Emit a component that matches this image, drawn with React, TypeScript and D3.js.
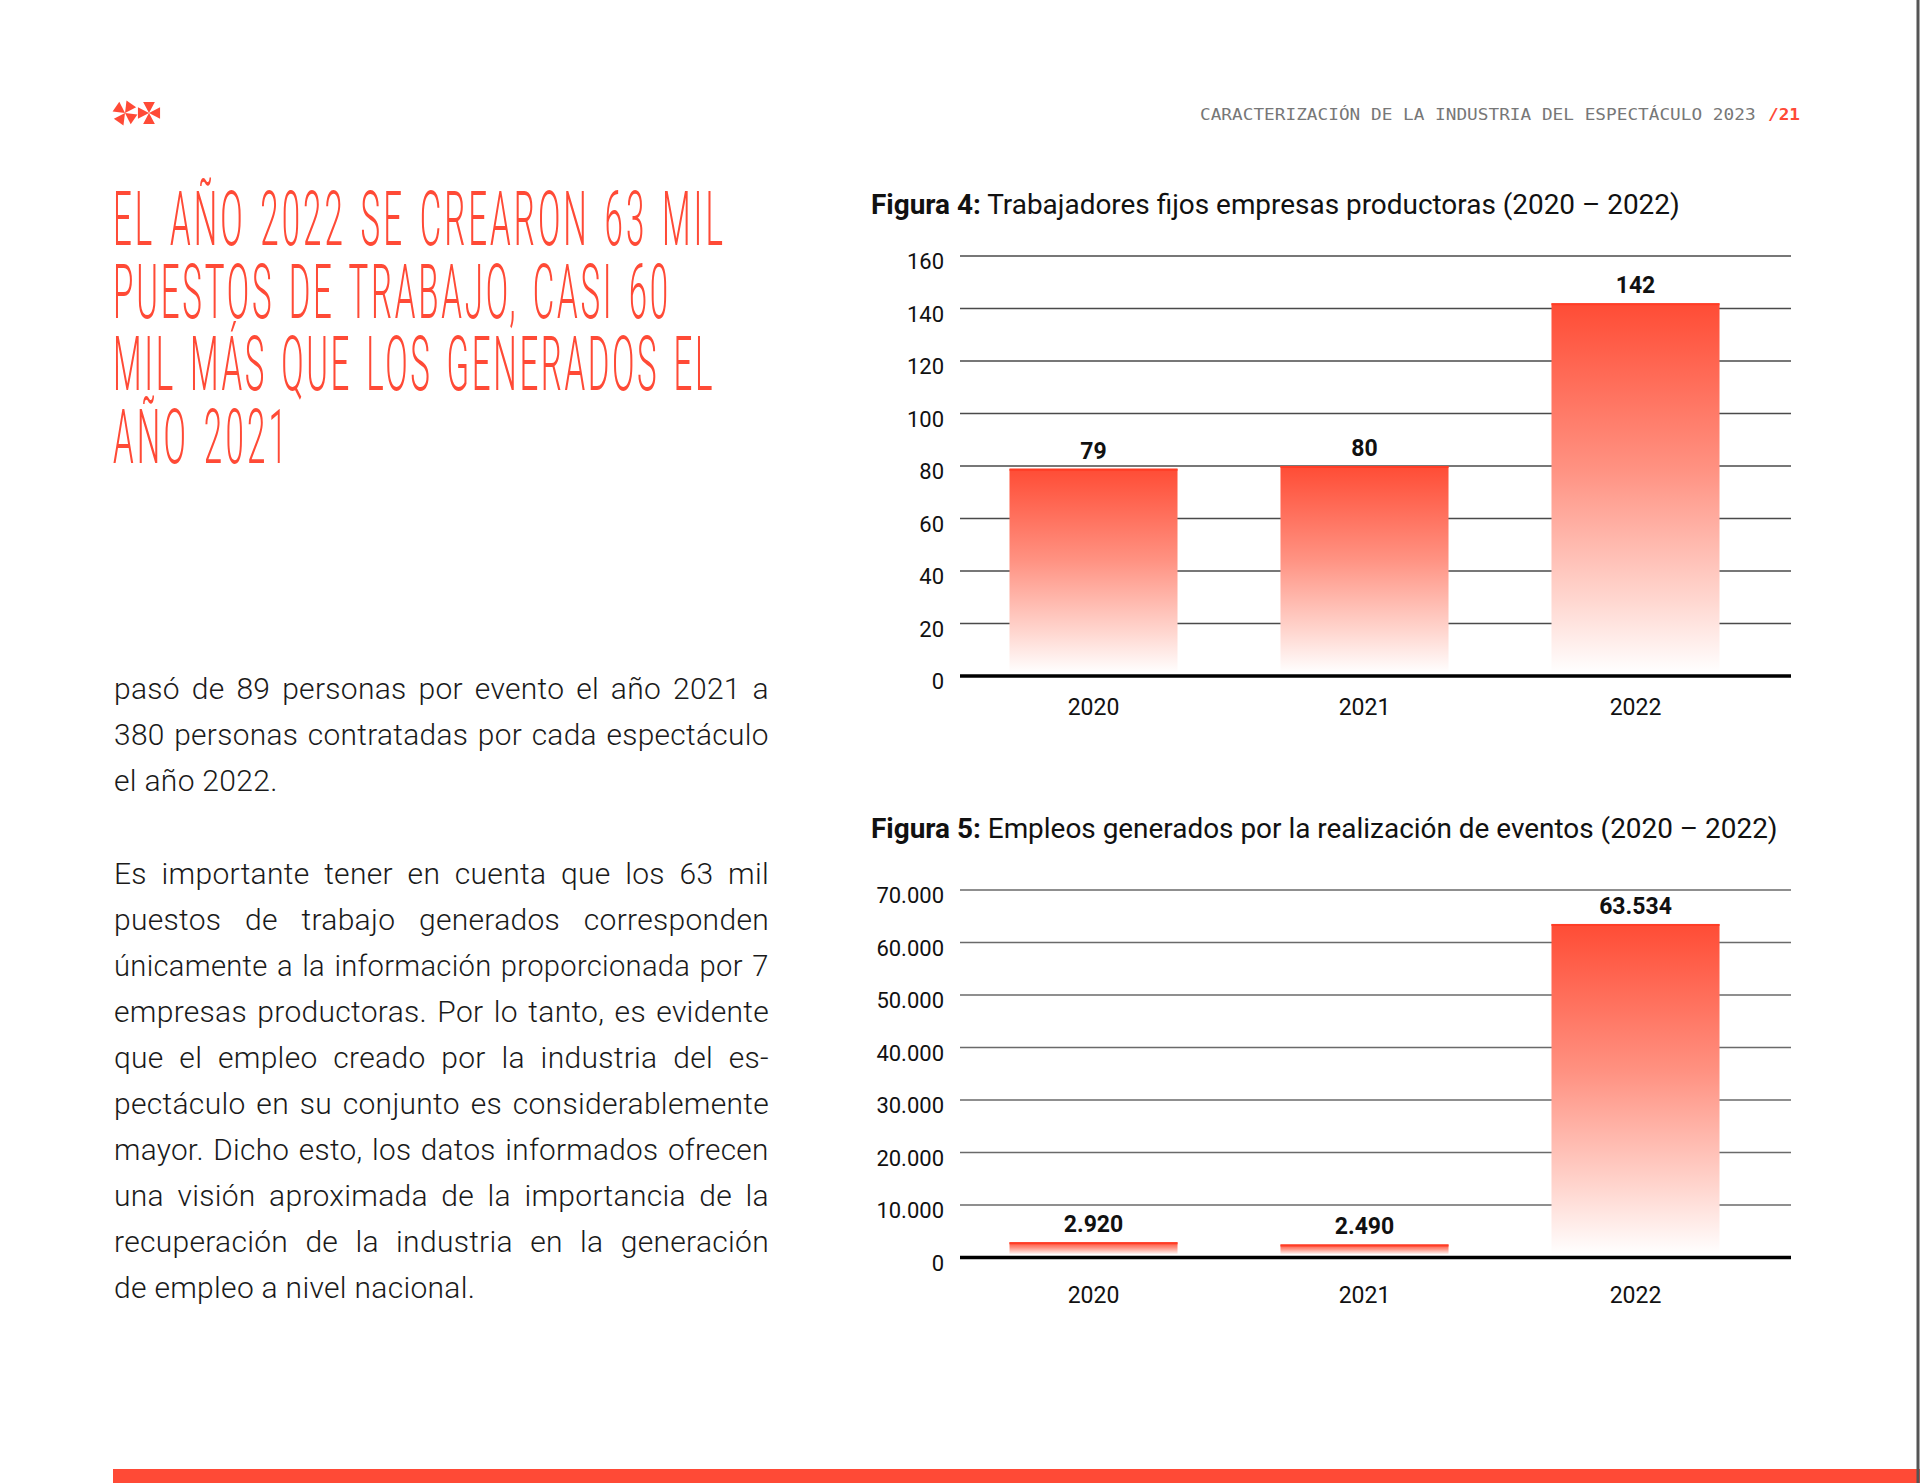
import * as d3 from "d3";
import { useEffect, useRef } from "react";

const years = ["2020", "2021", "2022"];
const fixedWorkers = [79, 80, 142];
const eventJobs = [2920, 2490, 63534];
const ticksFixed = [0, 20, 40, 60, 80, 100, 120, 140, 160];
const ticksJobs = [0, 10000, 20000, 30000, 40000, 50000, 60000, 70000];

const headlineLines = [
	"EL AÑO 2022 SE CREARON 63 MIL",
	"PUESTOS DE TRABAJO, CASI 60",
	"MIL MÁS QUE LOS GENERADOS EL",
	"AÑO 2021",
];
const headlineWidths = [613, 558, 602, 177];

const paragraphOne = [
	"pasó de 89 personas por evento el año 2021 a",
	"380 personas contratadas por cada espectáculo",
	"el año 2022.",
];
const paragraphTwo = [
	"Es importante tener en cuenta que los 63 mil",
	"puestos de trabajo generados corresponden",
	"únicamente a la información proporcionada por 7",
	"empresas productoras. Por lo tanto, es evidente",
	"que el empleo creado por la industria del es-",
	"pectáculo en su conjunto es considerablemente",
	"mayor. Dicho esto, los datos informados ofrecen",
	"una visión aproximada de la importancia de la",
	"recuperación de la industria en la generación",
	"de empleo a nivel nacional.",
];

const RED = "#ff4a36";
const esLocale = d3.formatLocale({
	decimal: ",",
	thousands: ".",
	grouping: [3],
	currency: ["$", ""],
});
const fmt = esLocale.format(",");

interface ChartOpts {
	id: string;
	titleBold: string;
	titleRest: string;
	titleY: number;
	titleWidth: number;
	yBottom: number;
	yTop: number;
	max: number;
	ticks: number[];
	values: number[];
	gridColor: string;
	xLabelOffset: number;
}

// squeeze a text horizontally to a given width with a transform, so its box stays true
function fit(sel: any, x: number, y: number, width: number) {
	sel.attr("x", 0).attr("y", 0);
	const natural = (sel.node() as SVGTextElement).getComputedTextLength();
	const s = natural > 0 ? width / natural : 1;
	sel.attr("transform", `translate(${x},${y}) scale(${s},1)`);
	return sel;
}

function App() {
	const ref = useRef<SVGSVGElement>(null);

	function drawChart(svg: any, o: ChartOpts) {
		const g = svg.append("g").attr("id", o.id);
		const xScale = d3
			.scaleBand()
			.domain(years)
			.range([958, 1771])
			.paddingInner(0.38)
			.paddingOuter(0.19);
		const yScale = d3
			.scaleLinear()
			.domain([0, o.max])
			.range([o.yBottom, o.yTop]);

		// title
		const title = g
			.append("text")
			.attr("font-family", "Roboto")
			.attr("font-size", 28)
			.attr("fill", "#111");
		title.append("tspan").attr("font-weight", 700).text(o.titleBold);
		title.append("tspan").text(o.titleRest);
		fit(title, 871, o.titleY, o.titleWidth);

		// gridlines + tick labels
		g.selectAll(".grid")
			.data(o.ticks.filter((t) => t > 0))
			.enter()
			.append("line")
			.attr("class", "grid")
			.attr("x1", 960)
			.attr("x2", 1791)
			.attr("y1", (d: number) => yScale(d))
			.attr("y2", (d: number) => yScale(d))
			.attr("stroke", o.gridColor)
			.attr("stroke-width", 1.6);

		g.selectAll(".tick")
			.data(o.ticks)
			.enter()
			.append("text")
			.attr("class", "tick")
			.attr("x", 944)
			.attr("y", (d: number) => yScale(d) + 13)
			.attr("text-anchor", "end")
			.attr("font-family", "Roboto")
			.attr("font-size", 22)
			.attr("fill", "#111")
			.text((d: number) => fmt(d));

		// gradient
		const defs = g.append("defs");
		const grad = defs
			.append("linearGradient")
			.attr("id", o.id + "-grad")
			.attr("x1", 0)
			.attr("x2", 0)
			.attr("y1", 0)
			.attr("y2", 1);
		grad.append("stop").attr("offset", "0%").attr("stop-color", "#ff4c35");
		grad.append("stop").attr("offset", "45%").attr("stop-color", "#ff9282");
		grad.append("stop").attr("offset", "80%").attr("stop-color", "#ffd6cf");
		grad.append("stop").attr("offset", "100%").attr("stop-color", "#ffffff");

		const data = years.map((y, i) => ({ year: y, value: o.values[i] }));

		g.selectAll(".bar")
			.data(data)
			.enter()
			.append("rect")
			.attr("class", "bar")
			.attr("x", (d: any) => xScale(d.year))
			.attr("y", (d: any) => yScale(d.value))
			.attr("width", xScale.bandwidth())
			.attr("height", (d: any) => o.yBottom - yScale(d.value) - 3)
			.attr("fill", `url(#${o.id}-grad)`);

		g.selectAll(".bartop")
			.data(data)
			.enter()
			.append("line")
			.attr("class", "bartop")
			.attr("x1", (d: any) => xScale(d.year))
			.attr("x2", (d: any) => (xScale(d.year) as number) + xScale.bandwidth())
			.attr("y1", (d: any) => yScale(d.value) + 1)
			.attr("y2", (d: any) => yScale(d.value) + 1)
			.attr("stroke", "#ff3d26")
			.attr("stroke-width", 2);

		g.selectAll(".val")
			.data(data)
			.enter()
			.append("text")
			.attr("class", "val")
			.attr("x", (d: any) => (xScale(d.year) as number) + xScale.bandwidth() / 2)
			.attr("y", (d: any) => yScale(d.value) - 10)
			.attr("text-anchor", "middle")
			.attr("font-family", "Roboto")
			.attr("font-weight", 700)
			.attr("font-size", 23)
			.attr("fill", "#111")
			.text((d: any) => fmt(d.value));

		// baseline
		g.append("line")
			.attr("x1", 960)
			.attr("x2", 1791)
			.attr("y1", o.yBottom)
			.attr("y2", o.yBottom)
			.attr("stroke", "#000")
			.attr("stroke-width", 3.5);

		g.selectAll(".xlab")
			.data(years)
			.enter()
			.append("text")
			.attr("class", "xlab")
			.attr("x", (d: string) => (xScale(d) as number) + xScale.bandwidth() / 2)
			.attr("y", o.yBottom + o.xLabelOffset)
			.attr("text-anchor", "middle")
			.attr("font-family", "Roboto")
			.attr("font-size", 23)
			.attr("fill", "#111")
			.text((d: string) => d);
	}

	function drawLogo(svg: any) {
		const shapes = [
			{ cx: 125, cy: 113, rot: 35 },
			{ cx: 149, cy: 113, rot: 0 },
		];
		const r = 12.5;
		const half = (28 * Math.PI) / 180;
		shapes.forEach((s) => {
			[0, 90, 180, 270].forEach((a) => {
				const ang = ((a + s.rot) * Math.PI) / 180;
				const p = d3.path();
				p.moveTo(s.cx, s.cy);
				p.lineTo(s.cx + r * Math.cos(ang - half), s.cy + r * Math.sin(ang - half));
				p.lineTo(s.cx + r * Math.cos(ang + half), s.cy + r * Math.sin(ang + half));
				p.closePath();
				svg.append("path").attr("d", p.toString()).attr("fill", RED);
			});
		});
	}

	function drawHeadline(svg: any) {
		// one text block, one tspan a line; lines share the horizontal squeeze
		const baseLs = 7;
		const t = svg
			.append("text")
			.attr("class", "headline")
			.attr("font-family", "Roboto")
			.attr("font-weight", 300)
			.attr("font-size", 76)
			.attr("word-spacing", 8)
			.attr("fill", RED);
		const spans = headlineLines.map((line, i) =>
			t
				.append("tspan")
				.attr("x", 0)
				.attr("y", i * 72.7)
				.attr("letter-spacing", baseLs)
				.text(line)
		);
		const naturals = spans.map((s: any) => (s.node() as SVGTSpanElement).getComputedTextLength());
		const scale = headlineWidths[0] / naturals[0];
		spans.forEach((s: any, i: number) => {
			if (i === 0) return;
			const n = headlineLines[i].length;
			const ls = baseLs + (headlineWidths[i] / scale - naturals[i]) / n;
			s.attr("letter-spacing", ls);
		});
		t.attr("transform", `translate(113,245) scale(${scale},1)`);
	}

	function drawPage() {
		const svg = d3.select(ref.current);
		svg.selectAll("*").remove();

		svg.append("rect").attr("width", 1920).attr("height", 1483).attr("fill", "#fff");

		drawLogo(svg);

		// running header
		const head = svg
			.append("text")
			.attr("font-family", "DejaVu Sans Mono")
			.attr("font-size", 16)
			.attr("fill", "#777")
			.text("CARACTERIZACIÓN DE LA INDUSTRIA DEL ESPECTÁCULO 2023");
		fit(head, 1200, 120, 556);
		const page = svg
			.append("text")
			.attr("font-family", "DejaVu Sans Mono")
			.attr("font-weight", 700)
			.attr("font-size", 16)
			.attr("fill", RED)
			.text("/21");
		fit(page, 1768, 120, 32);

		drawHeadline(svg);

		// body paragraphs, justified through word spacing (squeezed if too long)
		const para = (lines: string[], y0: number, cls: string) => {
			lines.forEach((line, i) => {
				const t = svg
					.append("text")
					.attr("class", cls)
					.attr("x", 114)
					.attr("y", y0 + i * 46)
					.attr("font-family", "Roboto")
					.attr("font-weight", 300)
					.attr("font-size", 30)
					.attr("letter-spacing", 0.3)
					.attr("fill", "#1a1a1a")
					.text(line);
				if (i === lines.length - 1) return;
				const natural = (t.node() as SVGTextElement).getComputedTextLength();
				const gaps = line.split(" ").length - 1;
				const minGap = 2;
				if (natural + gaps * minGap <= 655) {
					t.attr("word-spacing", (655 - natural) / gaps);
				} else {
					t.attr("word-spacing", minGap);
					fit(t, 114, y0 + i * 46, 655);
				}
			});
		};
		para(paragraphOne, 699, "p1");
		para(paragraphTwo, 884, "p2");

		drawChart(svg, {
			id: "fig4",
			titleBold: "Figura 4:",
			titleRest: " Trabajadores fijos empresas productoras (2020 – 2022)",
			titleY: 214,
			titleWidth: 809,
			yBottom: 676,
			yTop: 256,
			max: 160,
			ticks: ticksFixed,
			values: fixedWorkers,
			gridColor: "#4a4a4a",
			xLabelOffset: 39,
		});

		drawChart(svg, {
			id: "fig5",
			titleBold: "Figura 5:",
			titleRest: " Empleos generados por la realización de eventos (2020 – 2022)",
			titleY: 838,
			titleWidth: 907,
			yBottom: 1257.5,
			yTop: 890,
			max: 70000,
			ticks: ticksJobs,
			values: eventJobs,
			gridColor: "#6a6a6a",
			xLabelOffset: 45,
		});

		// bottom rule and right edge
		svg.append("rect")
			.attr("x", 113)
			.attr("y", 1469)
			.attr("width", 1807)
			.attr("height", 14)
			.attr("fill", RED);
		svg.append("line")
			.attr("x1", 1918)
			.attr("x2", 1918)
			.attr("y1", 0)
			.attr("y2", 1483)
			.attr("stroke", "#555")
			.attr("stroke-width", 3);
	}

	useEffect(() => {
		drawPage();
	}, []);

	return (
		<div style={{ position: "absolute", left: 0, top: 0 }}>
			<svg ref={ref} width={1920} height={1483} style={{ display: "block" }}></svg>
		</div>
	);
}

export default App;
